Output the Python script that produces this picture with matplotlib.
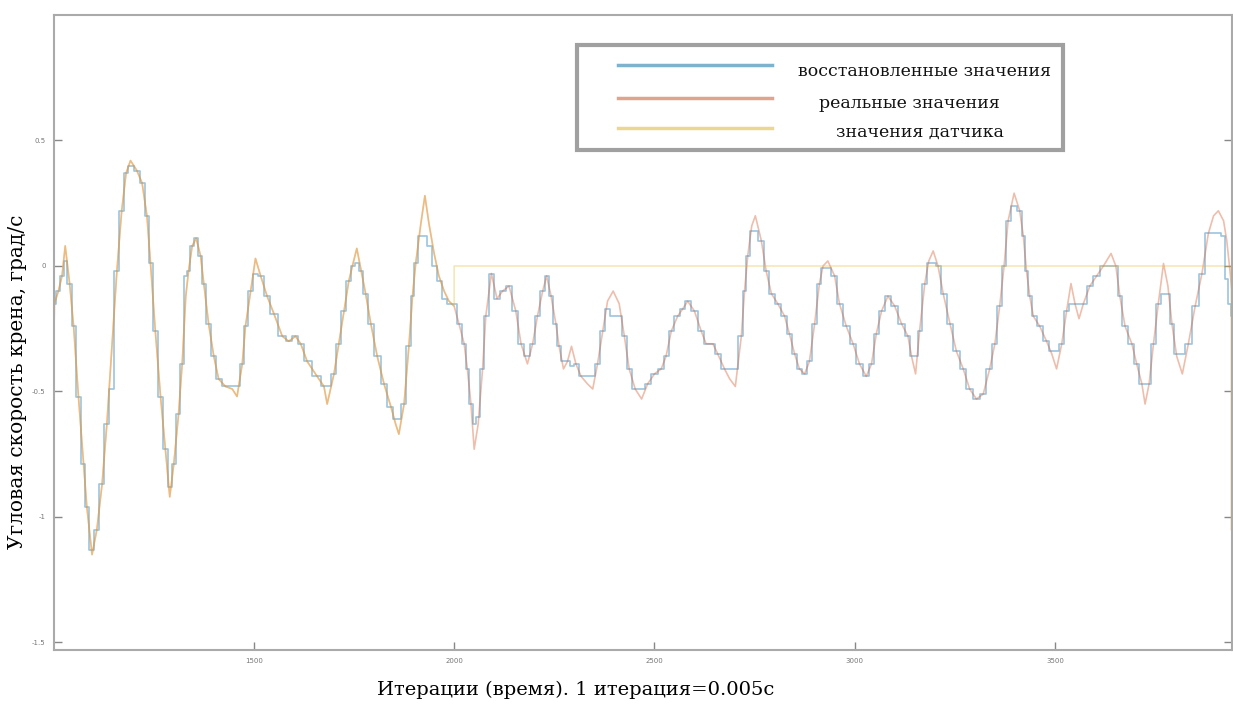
import matplotlib as mpl
mpl.use('Agg')
import matplotlib.pyplot as plt
from matplotlib.patches import Rectangle
from matplotlib.lines import Line2D

# iteration numbers / values
real_x = [1000, 1002, 1012, 1021, 1029, 1040, 1050, 1062, 1075, 1083, 1096, 1108, 1121, 1133, 1146,
          1158, 1170, 1181, 1192, 1208, 1221, 1233, 1242, 1254, 1267, 1279, 1290, 1300, 1312, 1321,
          1330, 1337, 1346, 1356, 1367, 1375, 1387, 1400, 1412, 1429, 1446, 1458, 1471, 1479, 1492,
          1504, 1517, 1533, 1550, 1571, 1587, 1604, 1617, 1633, 1658, 1675, 1683, 1700, 1712, 1725,
          1737, 1746, 1757, 1768, 1779, 1792, 1808, 1825, 1842, 1854, 1862, 1875, 1887, 1896, 1904,
          1917, 1927, 1937, 1950, 1962, 1975, 1987, 2000, 2012, 2025, 2033, 2042, 2050, 2060, 2071,
          2079, 2093, 2107, 2121, 2137, 2154, 2167, 2183, 2196, 2208, 2221, 2231, 2242, 2254, 2262,
          2273, 2283, 2293, 2304, 2317, 2333, 2346, 2358, 2371, 2383, 2397, 2412, 2425, 2437, 2452,
          2468, 2483, 2500, 2517, 2529, 2542, 2558, 2571, 2583, 2600, 2617, 2629, 2646, 2658, 2675,
          2688, 2702, 2717, 2725, 2733, 2743, 2752, 2767, 2779, 2792, 2808, 2825, 2837, 2850, 2862,
          2875, 2887, 2900, 2912, 2921, 2933, 2950, 2962, 2979, 2996, 3012, 3029, 3042, 3054, 3067,
          3083, 3100, 3117, 3133, 3142, 3152, 3162, 3175, 3185, 3196, 3208, 3221, 3238, 3254, 3271,
          3287, 3304, 3321, 3337, 3350, 3362, 3373, 3383, 3398, 3412, 3421, 3429, 3437, 3446, 3462,
          3479, 3492, 3504, 3517, 3529, 3540, 3550, 3560, 3571, 3587, 3604, 3621, 3640, 3652, 3662,
          3675, 3692, 3704, 3717, 3725, 3735, 3746, 3758, 3771, 3782, 3792, 3804, 3818, 3833, 3850,
          3867, 3883, 3896, 3908, 3921, 3929, 3937, 3942]

real_y = [-0.38, -0.15, -0.10, -0.04, 0.08, -0.07, -0.24, -0.52, -0.79, -0.96, -1.15, -1.05, -0.87, -0.63, -0.31,
          -0.02, 0.22, 0.37, 0.42, 0.38, 0.33, 0.20, 0.01, -0.26, -0.52, -0.73, -0.92, -0.79, -0.59, -0.39,
          -0.12, -0.02, 0.08, 0.11, 0.04, -0.07, -0.23, -0.36, -0.45, -0.48, -0.49, -0.52, -0.39, -0.24, -0.10,
          0.03, -0.04, -0.12, -0.19, -0.28, -0.30, -0.28, -0.31, -0.38, -0.44, -0.48, -0.55, -0.43, -0.31, -0.18,
          -0.06, 0.00, 0.07, -0.02, -0.11, -0.23, -0.36, -0.47, -0.56, -0.63, -0.67, -0.55, -0.32, -0.12, 0.01,
          0.17, 0.28, 0.17, 0.05, -0.04, -0.10, -0.14, -0.16, -0.23, -0.31, -0.41, -0.55, -0.73, -0.63, -0.41,
          -0.20, -0.03, -0.13, -0.10, -0.08, -0.18, -0.31, -0.39, -0.31, -0.20, -0.10, -0.04, -0.12, -0.23, -0.32,
          -0.41, -0.38, -0.32, -0.39, -0.44, -0.47, -0.49, -0.39, -0.26, -0.14, -0.10, -0.15, -0.28, -0.41, -0.49,
          -0.53, -0.47, -0.43, -0.41, -0.36, -0.26, -0.20, -0.17, -0.14, -0.18, -0.26, -0.31, -0.31, -0.35, -0.41,
          -0.45, -0.48, -0.28, -0.10, 0.04, 0.16, 0.20, 0.10, -0.02, -0.11, -0.15, -0.20, -0.27, -0.35, -0.41,
          -0.43, -0.38, -0.23, -0.07, 0.00, 0.02, -0.04, -0.15, -0.24, -0.31, -0.39, -0.44, -0.39, -0.27, -0.18,
          -0.12, -0.16, -0.23, -0.28, -0.36, -0.43, -0.26, -0.07, 0.02, 0.06, 0.00, -0.11, -0.23, -0.34, -0.41,
          -0.49, -0.53, -0.51, -0.41, -0.31, -0.16, 0.00, 0.18, 0.29, 0.22, 0.12, -0.02, -0.12, -0.20, -0.24,
          -0.30, -0.35, -0.41, -0.31, -0.18, -0.07, -0.15, -0.21, -0.15, -0.08, -0.04, 0.00, 0.05, 0.00, -0.12,
          -0.24, -0.31, -0.39, -0.47, -0.55, -0.47, -0.31, -0.15, 0.01, -0.08, -0.23, -0.36, -0.43, -0.31, -0.16,
          -0.03, 0.13, 0.20, 0.22, 0.18, 0.10, -0.02, -0.10]

restored_y = [-0.38, -0.15, -0.10, -0.04, 0.02, -0.07, -0.24, -0.52, -0.79, -0.96, -1.13, -1.05, -0.87, -0.63, -0.49,
              -0.02, 0.22, 0.37, 0.40, 0.38, 0.33, 0.20, 0.01, -0.26, -0.52, -0.73, -0.88, -0.79, -0.59, -0.39,
              -0.04, -0.02, 0.08, 0.11, 0.04, -0.07, -0.23, -0.36, -0.45, -0.48, -0.48, -0.48, -0.39, -0.24, -0.10,
              -0.03, -0.04, -0.12, -0.19, -0.28, -0.30, -0.28, -0.31, -0.38, -0.44, -0.48, -0.48, -0.43, -0.31, -0.18,
              -0.06, 0.00, 0.01, -0.02, -0.11, -0.23, -0.36, -0.47, -0.56, -0.61, -0.61, -0.55, -0.32, -0.12, 0.01,
              0.12, 0.12, 0.08, 0.00, -0.06, -0.13, -0.15, -0.15, -0.23, -0.31, -0.41, -0.55, -0.63, -0.60, -0.41,
              -0.20, -0.03, -0.13, -0.10, -0.08, -0.18, -0.31, -0.36, -0.31, -0.20, -0.10, -0.04, -0.12, -0.23, -0.32,
              -0.38, -0.38, -0.40, -0.39, -0.44, -0.44, -0.44, -0.39, -0.26, -0.17, -0.20, -0.20, -0.28, -0.41, -0.49,
              -0.49, -0.47, -0.43, -0.41, -0.36, -0.26, -0.20, -0.17, -0.14, -0.18, -0.26, -0.31, -0.31, -0.35, -0.41,
              -0.41, -0.41, -0.28, -0.10, 0.04, 0.14, 0.14, 0.10, -0.02, -0.11, -0.15, -0.20, -0.27, -0.35, -0.41,
              -0.43, -0.38, -0.23, -0.07, -0.01, -0.01, -0.04, -0.15, -0.24, -0.31, -0.39, -0.44, -0.39, -0.27, -0.18,
              -0.12, -0.16, -0.23, -0.28, -0.36, -0.36, -0.26, -0.07, 0.01, 0.01, 0.00, -0.11, -0.23, -0.34, -0.41,
              -0.49, -0.53, -0.51, -0.41, -0.31, -0.16, 0.00, 0.18, 0.24, 0.22, 0.12, -0.02, -0.12, -0.20, -0.24,
              -0.30, -0.34, -0.34, -0.31, -0.18, -0.15, -0.15, -0.15, -0.15, -0.08, -0.04, 0.00, 0.00, 0.00, -0.12,
              -0.24, -0.31, -0.39, -0.47, -0.47, -0.47, -0.31, -0.15, -0.11, -0.11, -0.23, -0.35, -0.35, -0.31, -0.16,
              -0.03, 0.13, 0.13, 0.13, 0.12, -0.05, -0.15, -0.20]

# sensor follows the real values up to 2000, then sits at 0
sensor_x = real_x[:real_x.index(2000)] + [2000, 2000, 3940, 3940]
sensor_y = real_y[:real_x.index(2000)] + [-0.16, 0.0, 0.0, -1.05]

labels = ['восстановленные значения', 'реальные значения', 'значения датчика']
xticks = [1500, 2000, 2500, 3000, 3500]
yticks = [-1.5, -1, -0.5, 0, 0.5]
yticklabels = ['-1.5', '-1', '-0.5', '0', '0.5']

W, H = 1233, 704
fig = plt.figure(figsize=(W / 100, H / 100), dpi=100)
ax = fig.add_axes([54 / W, 1 - 650 / H, 1178 / W, 635 / H])

ax.plot(real_x, restored_y, drawstyle='steps-mid', color='#3a8cc0', lw=1.2, alpha=0.5)
ax.plot(real_x, real_y, color='#d8643a', lw=1.2, alpha=0.42)
ax.plot(sensor_x, sensor_y, color='#e8b830', lw=1.2, alpha=0.35)

ax.set_xlim(1001, 3942)
ax.set_ylim(-1.53, 1.0)
ax.set_xticks(xticks)
ax.set_xticklabels([str(t) for t in xticks])
ax.set_yticks(yticks)
ax.set_yticklabels(yticklabels)
ax.tick_params(direction='in', length=6, width=1, color='#888888', labelsize=5,
               labelcolor='#777777', top=False, right=True, pad=6)
for s in ax.spines.values():
    s.set_color('#aaaaaa')
    s.set_linewidth(1.5)

ax.set_xlabel('Итерации (время). 1 итерация=0.005с', family='DejaVu Serif', fontsize=14)
ax.xaxis.label.set_va('center')
ax.xaxis.set_label_coords((576 - 54) / 1178, -(690 - 650) / 635)
ax.set_ylabel('Угловая скорость крена, град/с', family='DejaVu Serif', fontsize=14.5)
ax.yaxis.label.set_va('center')
ax.yaxis.set_label_coords(-(54 - 18) / 1178, (650 - 382) / 635)

# legend box drawn in figure pixels
def fx(px):
    return px / W

def fy(py):
    return 1 - py / H

fig.patches.append(Rectangle((fx(577), fy(150)), fx(1063) - fx(577), fy(45) - fy(150),
                             transform=fig.transFigure, facecolor='white',
                             edgecolor='#a0a0a0', lw=3, zorder=5))
leg_colors = ['#7fb2cc', '#e0a48c', '#ead88e']
line_y = [65, 98, 128]
text_x = [925, 909, 920]
text_y = [72, 103, 132]
for c, ly, tx, ty, lab in zip(leg_colors, line_y, text_x, text_y, labels):
    fig.lines.append(Line2D([fx(618), fx(772)], [fy(ly), fy(ly)], transform=fig.transFigure,
                            color=c, lw=2.5, zorder=6))
    fig.text(fx(tx), fy(ty), lab, ha='center', va='center', family='DejaVu Serif',
             fontsize=12.5, color='#111111', zorder=6)

fig.savefig('out.png', dpi=100)
